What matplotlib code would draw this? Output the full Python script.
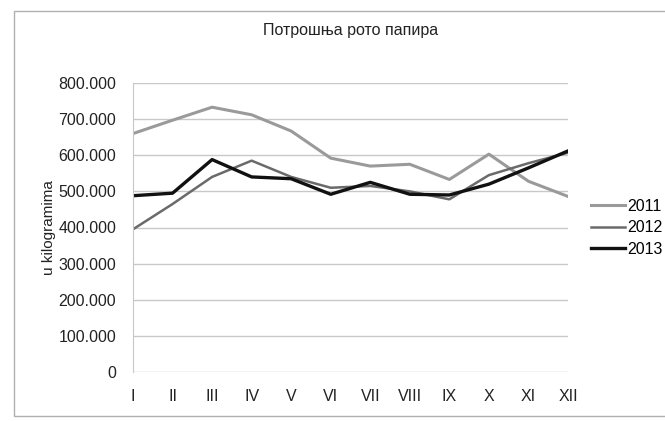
import numpy as np
import matplotlib
matplotlib.use("Agg")
import matplotlib.pyplot as plt
from matplotlib.patches import Rectangle

plt.rcParams['font.family'] = ['Liberation Sans', 'DejaVu Sans']

months = ['I', 'II', 'III', 'IV', 'V', 'VI', 'VII', 'VIII', 'IX', 'X', 'XI', 'XII']
years = ['2011', '2012', '2013']
s2011 = [660000, 697000, 733000, 712000, 667000, 592000, 570000, 575000, 533000, 603000, 528000, 486000]
s2012 = [395000, 465000, 540000, 585000, 540000, 510000, 515000, 500000, 478000, 545000, 578000, 607000]
s2013 = [488000, 495000, 588000, 540000, 535000, 492000, 525000, 492000, 490000, 520000, 565000, 612000]
yticks = [0, 100000, 200000, 300000, 400000, 500000, 600000, 700000, 800000]

fig = plt.figure(figsize=(6.65, 4.21), dpi=100)
fig.patches.append(Rectangle((14 / 665, 5 / 421), 1.0, 405 / 421, transform=fig.transFigure,
                             fill=False, edgecolor='#b0b0b0', linewidth=1.0))
ax = fig.add_axes([133 / 665, 1 - 372 / 421, 435 / 665, 289 / 421])

x = np.arange(len(months))
ax.plot(x, s2011, color='#9a9a9a', linewidth=2.2, label=years[0])
ax.plot(x, s2012, color='#6a6a6a', linewidth=1.8, label=years[1])
ax.plot(x, s2013, color='#111111', linewidth=2.4, label=years[2])

ax.set_xlim(0, 11)
ax.set_ylim(0, 800000)
ax.set_yticks(yticks)
ax.set_yticklabels([f'{v:,}'.replace(',', '.') for v in yticks], fontsize=11.5, color='#222222')
ax.set_xticks(x)
ax.set_xticklabels(months, fontsize=11.5, color='#222222')
ax.tick_params(length=0, pad=12)
ax.tick_params(axis='x', pad=12)
ax.grid(axis='y', color='#c8c8c8', linewidth=1.0)
ax.set_axisbelow(True)
for side in ['top', 'right', 'bottom']:
    ax.spines[side].set_visible(False)
ax.spines['left'].set_color('#c8c8c8')
ax.set_ylabel('u kilogramima', fontsize=11, color='#222222', labelpad=2)

fig.text(351 / 665, 1 - 30 / 421, 'Потрошња рото папира', ha='center', va='center',
         fontsize=11.5, color='#222222')

fig.legend(loc='upper left', bbox_to_anchor=(591 / 665, 1 - 199 / 421), frameon=False,
           fontsize=11.5, handlelength=2.1, handletextpad=0.15, labelspacing=0.4,
           borderpad=0, borderaxespad=0)

fig.savefig('out.png', dpi=100)
